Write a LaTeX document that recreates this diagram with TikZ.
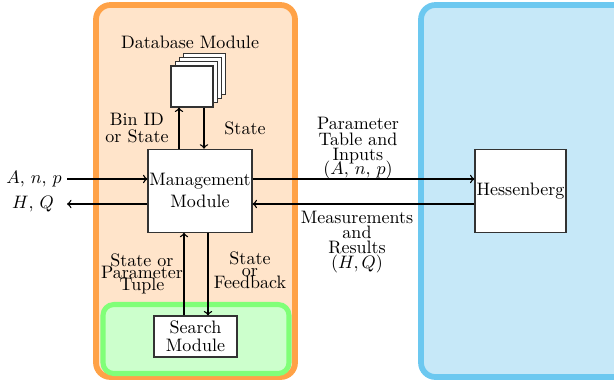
\documentclass[tikz,border=0pt]{standalone}
\usetikzlibrary{arrows}
\definecolor{orangeedge}{HTML}{FFA247}
\definecolor{orangefill}{HTML}{FFE4CA}
\definecolor{greenedge}{HTML}{80FF78}
\definecolor{greenfill}{HTML}{CCFFCC}
\definecolor{blueedge}{HTML}{6CC8F0}
\definecolor{bluefill}{HTML}{C6E8F8}
\newcommand\pxu{0.555pt}
\begin{document}
\begin{tikzpicture}[x=0.555pt,y=-0.555pt,
  box/.style={draw=black!80, fill=white, line width=0.6pt, inner sep=0pt, align=center},
  lbl/.style={align=center, inner sep=1pt},
  flow/.style={->, line width=0.75pt},
  panel/.style={line width=3.2pt, rounded corners=8pt}]
\useasboundingbox (0,0) rectangle (614,382);

% background panels
\draw[panel, draw=blueedge, fill=bluefill] (421,5) rectangle (650,377);
\draw[panel, draw=orangeedge, fill=orangefill] (96,5) rectangle (295,377);
\draw[panel, line width=2.8pt, rounded corners=6pt, draw=greenedge, fill=greenfill] (103,304.5) rectangle (289,373.5);

% database stack
\foreach \k in {3,2,1} {
  \node[box, minimum width=42*\pxu, minimum height=41*\pxu] at (192+4.3*\k,86.5-4.3*\k) {};
}
\node[box, minimum width=42*\pxu, minimum height=41*\pxu] (db) at (192,86.5) {};
\node[lbl] (dblabel) at (190,42) {Database Module};

% main blocks
\node[box, minimum width=104*\pxu, minimum height=83*\pxu] (mgmt) at (200,190.7) {Management\\Module};
\node[box, minimum width=91*\pxu, minimum height=83*\pxu] (hess) at (520.5,190.7) {Hessenberg};
\node[box, minimum width=83*\pxu, minimum height=41*\pxu] (search) at (195.5,336.5) {Search\\[-2pt]Module};

% external inputs and outputs
\node[lbl] (inA) at (34,179) {$A$, $n$, $p$};
\node[lbl] (outH) at (33,204) {$H$, $Q$};
\coordinate (inStart) at (67,179);
\coordinate (outEnd) at (67,204);

\draw[flow] (inStart) -- (inStart -| mgmt.west);
\draw[flow] (outEnd -| mgmt.west) -- (outEnd);

% management <-> database
\draw[flow] ([xshift=-21*\pxu]mgmt.north) -- ([xshift=-21*\pxu]mgmt.north |- db.south);
\draw[flow] ([xshift=4*\pxu]mgmt.north |- db.south) -- ([xshift=4*\pxu]mgmt.north);
\node[lbl] (binlbl) at (137,128) {Bin ID\\[-3pt]or State};
\node[lbl] (statelbl) at (245,128) {State};

% management <-> hessenberg
\draw[flow] ([yshift=11.7*\pxu]mgmt.east) -- ([yshift=11.7*\pxu]mgmt.east -| hess.west);
\draw[flow] ([yshift=-13.3*\pxu]mgmt.east -| hess.west) -- ([yshift=-13.3*\pxu]mgmt.east);
\node[lbl] (paramlbl) at (358,148) {Parameter\\[-3.2pt]Table and\\[-3.6pt]Inputs\\[-4.5pt]($A$, $n$, $p$)};
\node[lbl] (measlbl) at (357,242) {Measurements\\[-3.7pt]and\\[-3.7pt]Results\\[-3.7pt]$(H,Q)$};

% management <-> search
\draw[flow] ([xshift=-11.5*\pxu]search.north) -- ([xshift=-11.5*\pxu]search.north |- mgmt.south);
\draw[flow] ([xshift=12.5*\pxu]search.north |- mgmt.south) -- ([xshift=12.5*\pxu]search.north);
\node[lbl] (tuplelbl) at (142,274) {State or\\[-5.5pt]Parameter\\[-5.5pt]Tuple};
\node[lbl] (fbklbl) at (250,270) {State\\[-5.3pt]or\\[-5.3pt]Feedback};
\end{tikzpicture}
\end{document}
